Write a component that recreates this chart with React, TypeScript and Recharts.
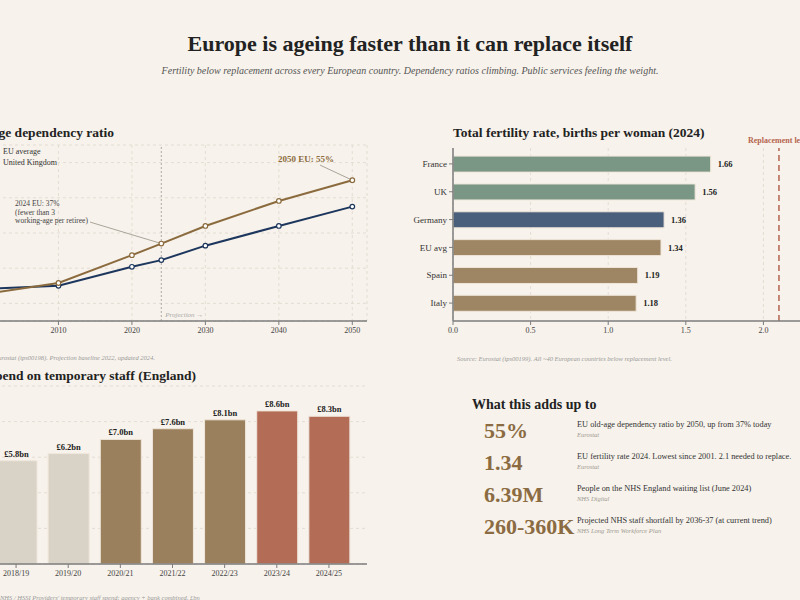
import React from "react"
import {
  LineChart,
  Line,
  BarChart,
  Bar,
  Cell,
  XAxis,
  YAxis,
  CartesianGrid,
  ReferenceLine,
  LabelList,
} from "recharts"

// Old-age dependency ratio (%), EU vs UK
const ratioYears = [2000, 2010, 2020, 2024, 2030, 2040, 2050];
const euRatio = [22.7, 25.8, 33.7, 37, 42, 49.1, 55];
const ukRatio = [24.1, 25.0, 30.4, 32.3, 36.4, 42, 47.5];

// Total fertility rate 2024
const countries = ["France", "UK", "Germany", "EU avg", "Spain", "Italy"];
const fertilityRates = [1.66, 1.56, 1.36, 1.34, 1.19, 1.18];
const replacementLevel = 2.1;

// NHS temporary staffing spend, £bn
const fiscalYears = ["2018/19", "2019/20", "2020/21", "2021/22", "2022/23", "2023/24", "2024/25"];
const tempStaffSpend = [5.8, 6.2, 7.0, 7.6, 8.1, 8.6, 8.3];

// Headline numbers
const statValues = ["55%", "1.34", "6.39M", "260-360K"];
const statLabels = [
  "EU old-age dependency ratio by 2050, up from 37% today",
  "EU fertility rate 2024. Lowest since 2001. 2.1 needed to replace.",
  "People on the NHS England waiting list (June 2024)",
  "Projected NHS staff shortfall by 2036-37 (at current trend)",
];
const statSources = ["Eurostat", "Eurostat", "NHS Digital", "NHS Long Term Workforce Plan"];

const SERIF = "'Liberation Serif', 'DejaVu Serif', serif";
const BG = "#f7f2eb";
const EU_COLOR = "#8b6b3e";
const UK_COLOR = "#1d365d";
const AXIS = "#7d7d7d";
const GRID = "#e4ddd3";

const fertilityColors = ["#7a9684", "#7a9684", "#4a5f7c", "#9e8664", "#9e8664", "#9e8664"];
const spendColors = ["#d9d2c6", "#d9d2c6", "#9a805d", "#9a805d", "#9a805d", "#b36d57", "#b36d57"];

const ratioData = ratioYears.map((year, i) => ({ year, eu: euRatio[i], uk: ukRatio[i] }));
const fertilityData = countries.map((country, i) => ({ country, rate: fertilityRates[i] }));
const spendData = fiscalYears.map((year, i) => ({ year, spend: tempStaffSpend[i] }));

const tickStyle = { fontSize: 8, fill: "#444", fontFamily: SERIF };

const chartTitle: React.CSSProperties = {
  position: "absolute",
  fontFamily: SERIF,
  fontWeight: 700,
  fontSize: 13.5,
  color: "#222",
  whiteSpace: "nowrap",
};

const sourceNote: React.CSSProperties = {
  position: "absolute",
  fontFamily: SERIF,
  fontStyle: "italic",
  fontSize: 6.5,
  color: "#9a9a9a",
  whiteSpace: "nowrap",
};

const DependencyChart = () => (
  <>
    <div style={{ ...chartTitle, right: 686, top: 125 }}>Old-age dependency ratio</div>
    <LineChart
      width={460}
      height={201}
      data={ratioData}
      margin={{ top: 5, right: 13, left: 0, bottom: 0 }}
      style={{ position: "absolute", left: -80, top: 140 }}
    >
      <CartesianGrid stroke={GRID} strokeDasharray="3 3" />
      <XAxis
        dataKey="year"
        type="number"
        domain={[2000, 2052]}
        ticks={[2000, 2010, 2020, 2030, 2040, 2050]}
        height={20}
        tick={tickStyle}
        tickSize={4}
        stroke={AXIS}
        axisLine={{ stroke: AXIS, strokeWidth: 1.5 }}
      />
      <YAxis
        domain={[15, 65]}
        ticks={[20, 30, 40, 50, 60]}
        width={65}
        tick={tickStyle}
        axisLine={false}
        tickLine={false}
        tickFormatter={(v) => `${v}%`}
      />
      <ReferenceLine
        x={2024}
        stroke="#b0aaa2"
        strokeDasharray="2 2"
        label={{
          value: "Projection →",
          position: "insideBottomLeft",
          offset: 4,
          fontSize: 7,
          fill: "#aaa",
          fontStyle: "italic",
          fontFamily: SERIF,
        }}
      />
      <ReferenceLine segment={[{ x: 2045.6, y: 59.3 }, { x: 2050, y: 55 }]} stroke="#aaa49a" />
      <ReferenceLine segment={[{ x: 2014.3, y: 43.1 }, { x: 2024, y: 37 }]} stroke="#aaa49a" />
      <Line
        dataKey="uk"
        stroke={UK_COLOR}
        strokeWidth={2}
        dot={{ r: 2.3, fill: "#fff", stroke: UK_COLOR, strokeWidth: 1.2 }}
        isAnimationActive={false}
      />
      <Line
        dataKey="eu"
        stroke={EU_COLOR}
        strokeWidth={2}
        dot={{ r: 2.3, fill: "#fff", stroke: EU_COLOR, strokeWidth: 1.2 }}
        isAnimationActive={false}
      />
    </LineChart>
    {/* legend */}
    <div style={{ position: "absolute", left: -22, top: 147, fontFamily: SERIF, fontSize: 8, color: "#333", lineHeight: "10.5px" }}>
      <div><span style={{ display: "inline-block", width: 16, height: 2, background: EU_COLOR, verticalAlign: "middle", marginRight: 9 }} />EU average</div>
      <div><span style={{ display: "inline-block", width: 16, height: 2, background: UK_COLOR, verticalAlign: "middle", marginRight: 9 }} />United Kingdom</div>
    </div>
    <div style={{ position: "absolute", left: 278, top: 154, fontFamily: SERIF, fontSize: 9, fontWeight: 700, color: EU_COLOR, whiteSpace: "nowrap" }}>
      2050 EU: 55%
    </div>
    <div style={{ position: "absolute", left: 15, top: 200, fontFamily: SERIF, fontSize: 7.5, color: "#444", lineHeight: "8.5px", whiteSpace: "nowrap" }}>
      2024 EU: 37%<br />(fewer than 3<br />working-age per retiree)
    </div>
    <div style={{ ...sourceNote, right: 645, top: 354 }}>
      Source: Eurostat (tps00198). Projection baseline 2022, updated 2024.
    </div>
  </>
);

const FertilityChart = () => (
  <>
    <div style={{ ...chartTitle, left: 453, top: 125 }}>Total fertility rate, births per woman (2024)</div>
    <BarChart
      layout="vertical"
      width={417}
      height={211}
      data={fertilityData}
      margin={{ top: 18, right: 0, left: 0, bottom: 0 }}
      style={{ position: "absolute", left: 393, top: 130 }}
      barCategoryGap="22%"
    >
      <CartesianGrid stroke={GRID} strokeDasharray="3 3" horizontal={false} />
      <XAxis
        type="number"
        domain={[0, 2.3]}
        ticks={[0, 0.5, 1, 1.5, 2]}
        tickFormatter={(v) => v.toFixed(1)}
        height={20}
        tick={tickStyle}
        tickSize={4}
        stroke={AXIS}
        axisLine={{ stroke: AXIS, strokeWidth: 1.5 }}
      />
      <YAxis
        type="category"
        dataKey="country"
        width={60}
        padding={{ top: 2, bottom: 4 }}
        tick={{ ...tickStyle, fontSize: 9, fill: "#333" }}
        tickSize={4}
        stroke={AXIS}
        axisLine={{ stroke: AXIS, strokeWidth: 1.5 }}
      />
      <ReferenceLine
        x={replacementLevel}
        stroke="#b5644f"
        strokeWidth={1.5}
        strokeDasharray="6 4"
        label={{
          value: "Replacement level",
          position: "top",
          offset: 5,
          fontSize: 8,
          fontWeight: 700,
          fill: "#b5644f",
          fontFamily: SERIF,
        }}
      />
      <Bar dataKey="rate" stroke="#efe6da" strokeWidth={1} isAnimationActive={false}>
        {fertilityData.map((d, i) => (
          <Cell key={d.country} fill={fertilityColors[i]} />
        ))}
        <LabelList
          dataKey="rate"
          position="right"
          offset={7}
          formatter={(v: number) => v.toFixed(2)}
          style={{ fontSize: 8.5, fontWeight: 700, fill: "#222", fontFamily: SERIF }}
        />
      </Bar>
    </BarChart>
    <div style={{ ...sourceNote, left: 457, top: 355 }}>
      Source: Eurostat (tps00199). All ~40 European countries below replacement level.
    </div>
  </>
);

const SpendChart = () => (
  <>
    <div style={{ ...chartTitle, right: 604, top: 368 }}>NHS spend on temporary staff (England)</div>
    <BarChart
      width={439}
      height={204}
      data={spendData}
      margin={{ top: 6, right: 0, left: 0, bottom: 0 }}
      style={{ position: "absolute", left: -72, top: 380 }}
      barSize={41}
    >
      <CartesianGrid stroke={GRID} strokeDasharray="3 3" vertical={false} />
      <XAxis
        dataKey="year"
        padding={{ left: 12, right: 12 }}
        height={20}
        tick={tickStyle}
        tickSize={4}
        stroke={AXIS}
        axisLine={{ stroke: AXIS, strokeWidth: 1.5 }}
      />
      <YAxis
        domain={[0, 10]}
        ticks={[0, 2, 4, 6, 8, 10]}
        width={50}
        tick={tickStyle}
        axisLine={false}
        tickLine={false}
      />
      <Bar dataKey="spend" stroke="#efe6da" strokeWidth={1} isAnimationActive={false}>
        {spendData.map((d, i) => (
          <Cell key={d.year} fill={spendColors[i]} />
        ))}
        <LabelList
          dataKey="spend"
          position="top"
          offset={4}
          formatter={(v: number) => `£${v.toFixed(1)}bn`}
          style={{ fontSize: 8.5, fontWeight: 700, fill: "#222", fontFamily: SERIF }}
        />
      </Bar>
    </BarChart>
    <div style={{ ...sourceNote, left: 0, top: 594 }}>
      NHS / HSSI Providers' temporary staff spend: agency + bank combined, £bn
    </div>
  </>
);

const StatsPanel = () => (
  <div style={{ position: "absolute", left: 472, top: 397, fontFamily: SERIF }}>
    <div style={{ fontSize: 14, fontWeight: 700, color: "#222", marginBottom: 5 }}>What this adds up to</div>
    {statValues.map((value, i) => (
      <div key={value} style={{ position: "relative", height: 32 }}>
        <div style={{ position: "absolute", left: 12, top: 0, fontSize: 22, fontWeight: 700, color: "#8b6b42", lineHeight: "26px" }}>
          {value}
        </div>
        <div style={{ position: "absolute", left: 105, top: 2, whiteSpace: "nowrap" }}>
          <div style={{ fontSize: 8.3, color: "#333", lineHeight: "10px" }}>{statLabels[i]}</div>
          <div style={{ fontSize: 6.5, fontStyle: "italic", color: "#a09a92", lineHeight: "9px" }}>{statSources[i]}</div>
        </div>
      </div>
    ))}
  </div>
);

export default function App() {
  return (
    <div style={{ position: "fixed", left: 0, top: 0, width: 800, height: 600, overflow: "hidden", background: BG }}>
      <div style={{ position: "absolute", left: 0, width: 820, top: 31, textAlign: "center", fontFamily: SERIF }}>
        <div style={{ fontSize: 22, fontWeight: 700, color: "#222" }}>Europe is ageing faster than it can replace itself</div>
        <div style={{ fontSize: 10, fontStyle: "italic", color: "#555", marginTop: 8 }}>
          Fertility below replacement across every European country. Dependency ratios climbing. Public services feeling the weight.
        </div>
      </div>
      <DependencyChart />
      <FertilityChart />
      <SpendChart />
      <StatsPanel />
    </div>
  );
}
